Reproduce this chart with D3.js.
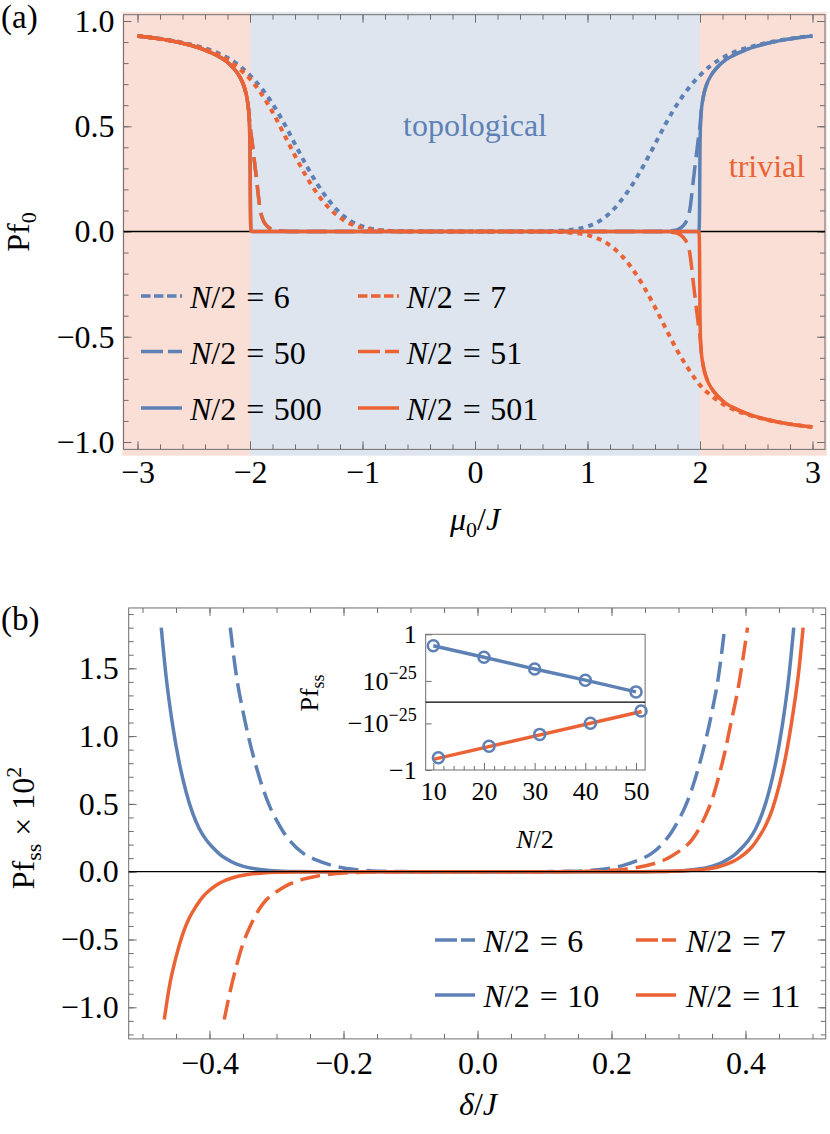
<!DOCTYPE html>
<html><head><meta charset="utf-8">
<script src="https://cdn.jsdelivr.net/npm/d3@7"></script>
<style>
body{margin:0;background:#fff}
svg{display:block}
text{font-family:"Liberation Serif","Times New Roman",serif;fill:#000}
</style></head><body>
<svg id="c" width="830" height="1134"></svg>
<script>
// ================= DATA: panel (a) =================
const muDotted = [-3,-2.8,-2.6,-2.4,-2.3,-2.2,-2.1,-2,-1.9,-1.8,-1.7,-1.6,-1.5,-1.4,-1.3,-1.2,-1.1,-1,-0.9,-0.8,-0.7,-0.6,-0.4,-0.2,0,0.2,0.4,0.6,0.7,0.8,0.9,1,1.1,1.2,1.3,1.4,1.5,1.6,1.7,1.8,1.9,2,2.1,2.2,2.3,2.4,2.6,2.8,3];
const pfHalf6 = [0.929,0.916,0.897,0.870,0.851,0.825,0.790,0.742,0.682,0.607,0.517,0.415,0.315,0.224,0.148,0.088,0.048,0.024,0.011,0.005,0.002,0.0008,0.0001,0,0,0,0.0001,0.0008,0.002,0.005,0.011,0.024,0.048,0.088,0.148,0.224,0.315,0.415,0.517,0.607,0.682,0.742,0.790,0.825,0.851,0.870,0.897,0.916,0.929];
const pfHalf7 = [0.929,0.915,0.895,0.866,0.845,0.815,0.775,0.725,0.655,0.568,0.465,0.360,0.262,0.178,0.113,0.066,0.035,0.017,0.008,0.0035,0.0014,0.0005,0.00005,0,0,0,-0.00005,-0.0005,-0.0014,-0.0035,-0.008,-0.017,-0.035,-0.066,-0.113,-0.178,-0.262,-0.360,-0.465,-0.568,-0.655,-0.730,-0.780,-0.818,-0.846,-0.866,-0.895,-0.915,-0.929];
const muDashed = [-3,-2.8,-2.6,-2.4,-2.3,-2.2,-2.15,-2.1,-2.07,-2.05,-2.03,-2.01,-2,-1.99,-1.98,-1.97,-1.96,-1.95,-1.94,-1.93,-1.92,-1.91,-1.9,-1.88,-1.86,-1.84,-1.82,-1.8,-1.75,-1.7,-1.6,-1.5,0,1.5,1.6,1.7,1.75,1.8,1.82,1.84,1.86,1.88,1.9,1.91,1.92,1.93,1.94,1.95,1.96,1.97,1.98,1.99,2,2.01,2.03,2.05,2.07,2.1,2.15,2.2,2.3,2.4,2.6,2.8,3];
const pfHalf50 = [0.929,0.915,0.894,0.862,0.838,0.804,0.778,0.743,0.712,0.683,0.640,0.565,0.50,0.46,0.42,0.375,0.33,0.285,0.24,0.19,0.145,0.105,0.08,0.05,0.033,0.022,0.014,0.009,0.004,0.0015,0.0002,0,0,0,0.0002,0.0015,0.004,0.009,0.014,0.022,0.033,0.05,0.08,0.105,0.145,0.19,0.24,0.285,0.33,0.375,0.42,0.46,0.50,0.565,0.640,0.683,0.712,0.743,0.778,0.804,0.838,0.862,0.894,0.915,0.929];
const pfHalf51 = [0.929,0.915,0.894,0.862,0.838,0.804,0.778,0.743,0.712,0.683,0.640,0.565,0.50,0.46,0.42,0.375,0.33,0.285,0.24,0.19,0.145,0.105,0.08,0.05,0.033,0.022,0.014,0.009,0.004,0.0015,0.0002,0,0,0,-0.0002,-0.0015,-0.004,-0.009,-0.014,-0.022,-0.033,-0.05,-0.08,-0.105,-0.145,-0.19,-0.24,-0.285,-0.33,-0.375,-0.42,-0.46,-0.50,-0.565,-0.640,-0.683,-0.712,-0.743,-0.778,-0.804,-0.838,-0.862,-0.894,-0.915,-0.929];
const muSolid = [-3,-2.8,-2.6,-2.4,-2.3,-2.2,-2.15,-2.1,-2.07,-2.05,-2.03,-2.02,-2.01,-2.005,-2.002,-2,-1.998,-1.996,-1.994,-1.99,-1.98,0,1.98,1.99,1.994,1.996,1.998,2,2.002,2.005,2.01,2.02,2.03,2.05,2.07,2.1,2.15,2.2,2.3,2.4,2.6,2.8,3];
const pfHalf500 = [0.929,0.915,0.894,0.862,0.838,0.804,0.778,0.743,0.713,0.685,0.643,0.612,0.562,0.515,0.46,0.40,0.25,0.10,0.03,0.003,0,0,0,0.003,0.03,0.10,0.25,0.40,0.46,0.515,0.562,0.612,0.643,0.685,0.713,0.743,0.778,0.804,0.838,0.862,0.894,0.915,0.929];
const pfHalf501 = [0.929,0.915,0.894,0.862,0.838,0.804,0.778,0.743,0.713,0.685,0.643,0.612,0.562,0.515,0.46,0.40,0.25,0.10,0.03,0.003,0,0,0,-0.003,-0.03,-0.10,-0.25,-0.40,-0.46,-0.515,-0.562,-0.612,-0.643,-0.685,-0.713,-0.743,-0.778,-0.804,-0.838,-0.862,-0.894,-0.915,-0.929];
const xTicksA = [-3,-2,-1,0,1,2,3];
const xTickLabelsA = ["−3","−2","−1","0","1","2","3"];
const yTicksA = [-1,-0.5,0,0.5,1];
const yTickLabelsA = ["−1.0","−0.5","0.0","0.5","1.0"];
const legendNamesA = ["6","50","500","7","51","501"];
const phaseBounds = [-2, 2];

// ================= DATA: panel (b) =================
const deltaHalf6 = [-0.369,-0.36,-0.35,-0.342,-0.33,-0.32,-0.31,-0.3,-0.29,-0.28,-0.26,-0.24,-0.22,-0.2,-0.18,-0.16,-0.14,-0.12,-0.1,-0.06,0,0.06,0.1,0.12,0.14,0.16,0.18,0.2,0.22,0.24,0.26,0.28,0.29,0.3,0.31,0.32,0.33,0.342,0.35,0.36,0.369];
const pfssHalf6 = [1.8,1.45,1.18,1,0.77,0.61,0.48,0.38,0.295,0.228,0.135,0.085,0.05,0.028,0.015,0.007,0.003,0.0012,0.0004,0.00003,0,0.00003,0.0004,0.0012,0.003,0.007,0.015,0.028,0.05,0.085,0.135,0.228,0.295,0.38,0.48,0.61,0.77,1,1.18,1.45,1.8];
const deltaHalf7 = [-0.378,-0.37,-0.36,-0.35,-0.34,-0.33,-0.32,-0.3,-0.29,-0.28,-0.26,-0.24,-0.22,-0.2,-0.18,-0.16,-0.14,-0.12,-0.1,-0.06,0,0.06,0.1,0.12,0.14,0.16,0.18,0.2,0.22,0.24,0.26,0.28,0.29,0.3,0.32,0.33,0.34,0.35,0.36,0.37,0.378,0.39,0.403];
const pfssHalf7 = [-1.09,-0.9,-0.7,-0.53,-0.41,-0.31,-0.235,-0.148,-0.116,-0.09,-0.055,-0.033,-0.019,-0.01,-0.005,-0.0024,-0.001,-0.0004,-0.0001,-0.000005,0,0.000005,0.0001,0.0004,0.001,0.0024,0.005,0.01,0.019,0.033,0.055,0.09,0.116,0.148,0.235,0.31,0.41,0.53,0.7,0.9,1.09,1.38,1.8];
const deltaHalf10 = [-0.472,-0.465,-0.455,-0.445,-0.435,-0.425,-0.415,-0.405,-0.395,-0.385,-0.375,-0.365,-0.355,-0.345,-0.33,-0.31,-0.29,-0.27,-0.24,-0.2,-0.14,0,0.14,0.2,0.24,0.27,0.29,0.31,0.33,0.345,0.355,0.365,0.375,0.385,0.395,0.405,0.415,0.425,0.435,0.445,0.455,0.465,0.472];
const pfssHalf10 = [1.8,1.45,1.08,0.8,0.59,0.43,0.315,0.235,0.178,0.13,0.095,0.068,0.048,0.034,0.02,0.009,0.004,0.0017,0.0005,0.0001,0.000005,0,0.000005,0.0001,0.0005,0.0017,0.004,0.009,0.02,0.034,0.048,0.068,0.095,0.13,0.178,0.235,0.315,0.43,0.59,0.8,1.08,1.45,1.8];
const deltaHalf11 = [-0.4675,-0.46,-0.45,-0.44,-0.43,-0.42,-0.41,-0.4,-0.39,-0.38,-0.37,-0.36,-0.34,-0.32,-0.3,-0.27,-0.24,-0.2,-0.14,0,0.14,0.2,0.24,0.27,0.3,0.32,0.34,0.36,0.37,0.38,0.39,0.4,0.41,0.42,0.43,0.44,0.45,0.46,0.47,0.48,0.486];
const pfssHalf11 = [-1.09,-0.85,-0.63,-0.46,-0.34,-0.255,-0.185,-0.137,-0.1,-0.072,-0.052,-0.037,-0.019,-0.01,-0.0045,-0.0014,-0.0004,-0.0001,-0.000005,0,0.000005,0.0001,0.0004,0.0014,0.0045,0.01,0.019,0.037,0.052,0.072,0.1,0.137,0.185,0.255,0.34,0.46,0.63,0.85,1.14,1.5,1.8];
const xTicksB = [-0.4,-0.2,0,0.2,0.4];
const xTickLabelsB = ["−0.4","−0.2","0.0","0.2","0.4"];
const yTicksB = [-1,-0.5,0,0.5,1,1.5];
const yTickLabelsB = ["−1.0","−0.5","0.0","0.5","1.0","1.5"];
const legendNamesB = ["6","7","10","11"];

// ================= DATA: inset =================
const insetNEven = [10,20,30,40,50];
const insetPfEven = [7.9e-7,5.0e-13,2.5e-19,2.5e-25,1.26e-31];
const insetNOdd = [11,21,31,41,51];
const insetPfOdd = [-2.5e-7,-1.6e-13,-7.9e-20,-7.9e-26,-2.0e-32];
const insetFitN = [10,51.1];
const insetFitPf = [-2.1e-6,-4.3e-32];
const insetXTicks = [10,20,30,40,50];
const insetYTicks = [-1,-1e-25,1e-25,1];

// ================= STYLE =================
const BLUE="#5E81B5", ORANGE="#EB6235", PINK="#F9DFD6", LBLUE="#DFE5EF", FRAME="#6e6e6e";
const FONT = 32;
const svg = d3.select("#c");

function rich(parent, parts, attrs){
  const t = parent.append("text");
  for (const k in attrs) t.attr(k, attrs[k]);
  let shift = 0;
  parts.forEach(p=>{
    const s = t.append("tspan").text(p.t);
    const target = p.sub ? p.sub : (p.sup ? -p.sup : 0);
    if (target !== shift){ s.attr("dy", target-shift); shift = target; }
    if (p.dx) s.attr("dx", p.dx);
    if (p.i) s.attr("font-style","italic");
    if (p.fs) s.attr("font-size", p.fs);
  });
  return t;
}
function styleAxis(g, fs){
  g.attr("font-family",null).attr("font-size",null);
  g.select(".domain").remove();
  g.selectAll(".tick line").attr("stroke",FRAME).attr("stroke-width",1);
  g.selectAll(".tick text").attr("fill","#000").attr("font-size",fs);
}
function frameAxes(g, x, y, fx, fy, xMaj, xMin, yMaj, yMin, xLab, yLab, padX, padY){
  const L=x(fx[0]), R=x(fx[1]), T=y(fy[1]), B=y(fy[0]);
  const mk = (axis, tr, vals, size, fmt, pad)=>{
    const a = axis.tickValues(vals).tickSize(-size).tickSizeOuter(0).tickPadding(pad||0).tickFormat(fmt||(()=>""));
    const gg = g.append("g").attr("transform",tr).call(a); styleAxis(gg, FONT); return gg;
  };
  mk(d3.axisBottom(x), `translate(0,${B})`, xMin, 5);
  mk(d3.axisBottom(x), `translate(0,${B})`, xMaj, 8, (d,i)=>xLab[i], padX);
  mk(d3.axisTop(x), `translate(0,${T})`, xMin, 5);
  mk(d3.axisTop(x), `translate(0,${T})`, xMaj, 8);
  mk(d3.axisLeft(y), `translate(${L},0)`, yMin, 5);
  mk(d3.axisLeft(y), `translate(${L},0)`, yMaj, 8, (d,i)=>yLab[i], padY);
  mk(d3.axisRight(y), `translate(${R},0)`, yMin, 5);
  mk(d3.axisRight(y), `translate(${R},0)`, yMaj, 8);
  g.append("rect").attr("x",L).attr("y",T).attr("width",R-L).attr("height",B-T)
    .attr("fill","none").attr("stroke",FRAME).attr("stroke-width",1);
}
const rng = (a,b,s)=>d3.range(Math.round(a/s),Math.round(b/s)+1).map(i=>+(i*s).toFixed(4));
const legendParts = v => [{t:"N",i:1},{t:"/2"},{t:"=",dx:10},{t:v,dx:9.5}];

// ================= PANEL (a) =================
const gA = svg.append("g");
const xA = d3.scaleLinear().domain([-3,3]).range([137.5,812.5]);
const yA = d3.scaleLinear().domain([-1,1]).range([442,21]);
const fxA = [-3.124,3.111], fyA = [-1.035,1.03];
const shadeX = [-3.135,3.127], shadeY = [-1.065,1.043];
[[shadeX[0],phaseBounds[0],PINK],[phaseBounds[0],phaseBounds[1],LBLUE],[phaseBounds[1],shadeX[1],PINK]].forEach(r=>{
  gA.append("rect").attr("x",xA(r[0])).attr("width",xA(r[1])-xA(r[0]))
    .attr("y",yA(shadeY[1])).attr("height",yA(shadeY[0])-yA(shadeY[1])).attr("fill",r[2]);
});
frameAxes(gA, xA, yA, fxA, fyA, xTicksA, rng(-3,3,0.2), yTicksA, rng(-1,1,0.1), xTickLabelsA, yTickLabelsA, 11, 9);
gA.append("line").attr("x1",xA(fxA[0])).attr("x2",xA(fxA[1])).attr("y1",yA(0)).attr("y2",yA(0)).attr("stroke","#000").attr("stroke-width",1.3);

const DASH = {dotted:"5,5", dashed:"20,8", solid:null};
const seriesA = [
  {x:muDotted, y:pfHalf6, c:BLUE, s:"dotted"},
  {x:muDashed, y:pfHalf50, c:BLUE, s:"dashed"},
  {x:muSolid, y:pfHalf500, c:BLUE, s:"solid"},
  {x:muDotted, y:pfHalf7, c:ORANGE, s:"dotted"},
  {x:muDashed, y:pfHalf51, c:ORANGE, s:"dashed"},
  {x:muSolid, y:pfHalf501, c:ORANGE, s:"solid"}
];
const lineA = d3.line().x(d=>xA(d[0])).y(d=>yA(d[1])).curve(d3.curveMonotoneX);
seriesA.forEach(s=>{
  gA.append("path").attr("d", lineA(s.x.map((v,i)=>[v,s.y[i]])))
    .attr("fill","none").attr("stroke",s.c).attr("stroke-width",s.s==="dotted"?4:3.5)
    .attr("stroke-dasharray",DASH[s.s]).attr("stroke-linejoin","round");
});
gA.append("text").attr("x",xA(0)).attr("y",136).attr("text-anchor","middle").attr("font-size",FONT).style("fill",BLUE).text("topological");
gA.append("text").attr("x",767).attr("y",177).attr("text-anchor","middle").attr("font-size",FONT).style("fill",ORANGE).text("trivial");
const legDashA = {dotted:"9.5,3.5", dashed:"22,5", solid:null};
const legColsA = [{sx:141, tx:190},{sx:358, tx:406.5}];
const legRowsA = [296, 351.5, 408];
seriesA.forEach((s,i)=>{
  const col = legColsA[Math.floor(i/3)], ry = legRowsA[i%3];
  gA.append("line").attr("x1",col.sx).attr("x2",col.sx+41).attr("y1",ry).attr("y2",ry)
    .attr("stroke",s.c).attr("stroke-width",3.5).attr("stroke-dasharray",legDashA[s.s]);
  rich(gA,legendParts(legendNamesA[i]),{x:col.tx,y:ry+12,"font-size":FONT});
});
rich(gA,[{t:"μ",i:1},{t:"0",sub:7,fs:22},{t:"/"},{t:"J",i:1}],{x:475,y:530,"text-anchor":"middle","font-size":FONT});
rich(gA,[{t:"Pf"},{t:"0",sub:7,fs:22}],{transform:"translate(29,232) rotate(-90)","text-anchor":"middle","font-size":FONT});
gA.append("text").attr("x",1).attr("y",28).attr("font-size",33).text("(a)");

// ================= PANEL (b) =================
const gB = svg.append("g");
const xB = d3.scaleLinear().domain([-0.4,0.4]).range([209.5,745.5]);
const yB = d3.scaleLinear().domain([-1,1.5]).range([1007.3,668.3]);
const fxB = [-0.5206,0.5197], fyB = [-1.233,1.945];
frameAxes(gB, xB, yB, fxB, fyB, xTicksB, rng(-0.5,0.5,0.05), yTicksB, rng(-1.2,1.9,0.1), xTickLabelsB, yTickLabelsB, 12.5, 10);
const seriesB = [
  {x:deltaHalf6, y:pfssHalf6, c:BLUE, s:"dashed"},
  {x:deltaHalf7, y:pfssHalf7, c:ORANGE, s:"dashed"},
  {x:deltaHalf10, y:pfssHalf10, c:BLUE, s:"solid"},
  {x:deltaHalf11, y:pfssHalf11, c:ORANGE, s:"solid"}
];
const lineB = d3.line().x(d=>xB(d[0])).y(d=>yB(d[1])).curve(d3.curveMonotoneX);
[0,2,1,3].forEach(k=>{
  const s = seriesB[k];
  gB.append("path").attr("d", lineB(s.x.map((v,i)=>[v,s.y[i]])))
    .attr("fill","none").attr("stroke",s.c).attr("stroke-width",3.5)
    .attr("stroke-dasharray",DASH[s.s]).attr("stroke-linejoin","round");
});
gB.append("line").attr("x1",xB(fxB[0])).attr("x2",xB(fxB[1])).attr("y1",yB(0)).attr("y2",yB(0)).attr("stroke","#000").attr("stroke-width",1.3);
const legDashB = {dashed:"22,4", solid:null};
const legColsB = [{sx:435, tx:483.5},{sx:636, tx:686}];
const legRowsB = [940, 995];
seriesB.forEach((s,i)=>{
  const col = legColsB[i%2], ry = legRowsB[Math.floor(i/2)];
  gB.append("line").attr("x1",col.sx).attr("x2",col.sx+40).attr("y1",ry).attr("y2",ry)
    .attr("stroke",s.c).attr("stroke-width",3.5).attr("stroke-dasharray",legDashB[s.s]);
  rich(gB,legendParts(legendNamesB[i]),{x:col.tx,y:ry+12,"font-size":FONT});
});
rich(gB,[{t:"δ",i:1},{t:"/"},{t:"J",i:1}],{x:478,y:1115,"text-anchor":"middle","font-size":FONT});
rich(gB,[{t:"Pf"},{t:"ss",sub:7,fs:22},{t:" × 10"},{t:"2",sup:13,fs:22}],{transform:"translate(34,828) rotate(-90)","text-anchor":"middle","font-size":FONT});
gB.append("text").attr("x",1).attr("y",630).attr("font-size",33).text("(b)");

// ================= INSET =================
const gI = svg.append("g");
const xI = d3.scaleLinear().domain([10,50]).range([433.3,636]);
const yI = d3.scaleSymlog().constant(Math.pow(10,-36.4)).domain([-1,1]).range([770,634.3]);
const fxI = [8.5,51.8];
const iL=xI(fxI[0]), iR=xI(fxI[1]), iT=yI(1), iB=yI(-1);
gI.append("rect").attr("x",iL).attr("y",iT).attr("width",iR-iL).attr("height",iB-iT).attr("fill","#fff");
const IFONT = 26;
let ga = gI.append("g").attr("transform",`translate(0,${iB})`).call(d3.axisBottom(xI).tickValues(d3.range(12,50,2).filter(v=>v%10)).tickSize(-4).tickFormat(()=>""));
styleAxis(ga, IFONT);
ga = gI.append("g").attr("transform",`translate(0,${iB})`).call(d3.axisBottom(xI).tickValues(insetXTicks).tickSize(-7).tickPadding(11.5).tickFormat(d=>String(d)));
styleAxis(ga, IFONT);
ga = gI.append("g").attr("transform",`translate(${iL},0)`).call(d3.axisLeft(yI).tickValues(insetYTicks).tickSize(-6).tickPadding(9).tickFormat(()=>""));
styleAxis(ga, IFONT);
ga.selectAll(".tick text").each(function(d){
  const t = d3.select(this); t.text("");
  const neg = d < 0 ? "−" : "";
  if (Math.abs(d) === 1) { t.append("tspan").text(neg+"1"); }
  else {
    t.append("tspan").text(neg+"10");
    t.append("tspan").attr("dy",-11).attr("font-size",18).text("−25");
  }
});
gI.append("rect").attr("x",iL).attr("y",iT).attr("width",iR-iL).attr("height",iB-iT)
  .attr("fill","none").attr("stroke",FRAME).attr("stroke-width",1);
gI.append("line").attr("x1",iL).attr("x2",iR).attr("y1",yI(0)).attr("y2",yI(0)).attr("stroke","#000").attr("stroke-width",1.3);
const lineI = d3.line().x(d=>xI(d[0])).y(d=>yI(d[1]));
gI.append("path").attr("d",lineI(insetNEven.map((n,i)=>[n,insetPfEven[i]]))).attr("fill","none").attr("stroke",BLUE).attr("stroke-width",3.5);
gI.append("path").attr("d",lineI(insetFitN.map((n,i)=>[n,insetFitPf[i]]))).attr("fill","none").attr("stroke",ORANGE).attr("stroke-width",3.5);
const pts = insetNEven.map((n,i)=>[n,insetPfEven[i]]).concat(insetNOdd.map((n,i)=>[n,insetPfOdd[i]]));
gI.selectAll("circle.p").data(pts).enter().append("circle").attr("class","p")
  .attr("cx",d=>xI(d[0])).attr("cy",d=>yI(d[1])).attr("r",5.5)
  .attr("fill","none").attr("stroke",BLUE).attr("stroke-width",2.5);
rich(gI,[{t:"N",i:1},{t:"/2"}],{x:535,y:848,"text-anchor":"middle","font-size":IFONT});
rich(gI,[{t:"Pf"},{t:"ss",sub:6,fs:18}],{transform:"translate(318,693) rotate(-90)","text-anchor":"middle","font-size":IFONT});
</script>
</body></html>
